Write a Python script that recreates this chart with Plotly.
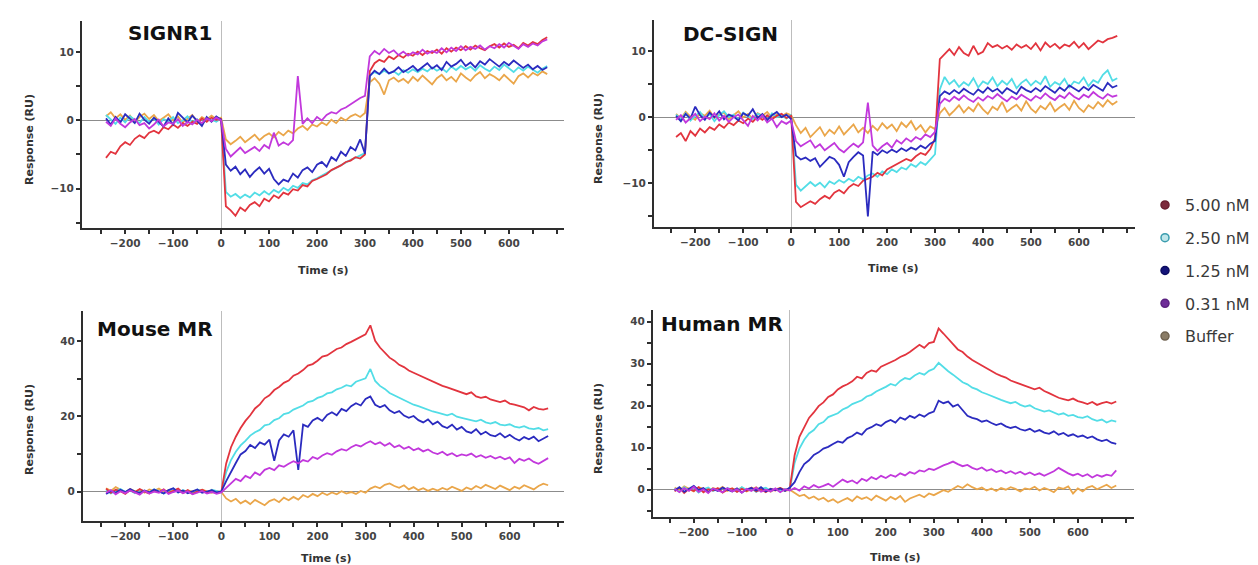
import plotly.graph_objects as go

# ---------------- data ----------------
time_s = list(range(-240, 681, 10))   # sample times (s): -240 ... 680

legend_labels = ["5.00 nM", "2.50 nM", "1.25 nM", "0.31 nM", "Buffer"]
panel_titles = ["SIGNR1", "DC-SIGN", "Mouse MR", "Human MR"]
x_tick_labels = [-200, -100, 0, 100, 200, 300, 400, 500, 600]

# ---- SIGNR1 ----
signr1_500 = ([-5.5, -4.6, -4.9, -3.8, -3.2, -3.6, -2.7, -2.2, -2.6, -1.8, -1.5, -1.9, -1.0, -1.3, -0.6, -1.1, -0.4, -0.8, -0.2, -0.5, 0.3, -0.2, 0.4, 0.1, 0.2]
              + [-12.6, -13.2, -14.0, -12.8, -13.3, -12.4, -12.0, -12.6, -11.5, -11.9, -11.0, -11.4, -10.6, -10.9, -10.1, -10.3, -9.5, -9.7, -8.9, -8.6, -8.2, -7.9, -7.3, -7.0, -6.6, -6.1, -5.9, -5.4, -5.6, -5.0]
              + [7.2, 8.4, 8.9, 8.6, 9.4, 9.0, 9.6, 9.2, 9.8, 9.5, 10.1, 9.6, 10.2, 9.9, 10.4, 9.8, 10.6, 10.1, 10.7, 10.3, 10.9, 10.4, 11.0, 10.6, 10.3, 10.9, 11.2, 10.7, 11.3, 10.8, 11.1, 10.6, 11.4, 11.0, 11.5, 11.2, 11.8, 12.2])
signr1_250 = ([0.8, 0.2, -0.5, 0.4, -0.3, 0.6, 0.1, -0.4, 0.5, -0.2, 0.3, -0.6, 0.2, -0.1, 0.5, -0.4, 0.0, 0.6, -0.3, 0.2, -0.5, 0.3, 0.1, -0.2, 0.3]
              + [-10.5, -11.2, -10.8, -11.4, -10.9, -11.3, -10.6, -11.0, -10.4, -10.9, -10.2, -10.6, -9.9, -10.3, -9.6, -9.9, -9.2, -9.4, -8.8, -8.5, -8.1, -7.7, -7.4, -7.0, -6.5, -6.2, -5.8, -5.5, -5.1, -4.8]
              + [6.6, 7.1, 6.8, 7.3, 6.9, 7.2, 6.7, 7.4, 7.0, 7.5, 7.1, 7.6, 7.2, 7.8, 7.3, 7.7, 7.1, 7.9, 7.4, 8.0, 7.5, 7.9, 7.3, 8.1, 7.6, 7.2, 7.9, 7.4, 8.2, 7.6, 7.1, 7.8, 7.3, 7.9, 7.5, 7.0, 7.6, 8.0])
signr1_125 = ([0.3, -0.6, 0.5, -0.3, 0.9, 0.2, -0.4, 1.0, 0.1, -0.5, 0.4, -0.2, -0.9, 0.3, -0.6, 1.1, 0.4, -0.3, 0.7, 0.0, -0.8, 0.5, -0.2, 0.6, 0.1]
              + [-6.5, -7.4, -6.8, -7.9, -7.2, -8.3, -7.5, -6.9, -7.8, -7.1, -8.6, -9.4, -8.7, -9.0, -7.8, -8.4, -7.3, -6.9, -7.6, -6.5, -6.1, -6.8, -5.4, -5.9, -4.6, -5.2, -3.9, -4.4, -2.8, -4.9]
              + [6.5, 7.3, 6.8, 7.6, 6.9, 7.2, 7.8, 7.1, 7.5, 8.0, 7.3, 7.9, 8.4, 7.6, 8.1, 7.4, 8.6, 7.9, 8.3, 8.9, 8.0, 8.5, 7.8, 8.7, 8.2, 9.0, 8.4, 7.9, 8.6, 8.1, 8.8, 8.3, 7.7, 8.2, 7.5, 8.0, 7.4, 7.8])
signr1_031 = ([-0.2, -0.8, 0.3, -0.5, -1.0, -0.3, 0.2, -0.7, -0.4, -1.2, -0.6, 0.1, -0.9, -0.3, -0.5, 0.2, -0.8, -0.2, -0.6, 0.1, -0.4, 0.3, -0.1, 0.4, 0.0]
              + [-4.2, -5.3, -4.6, -4.0, -4.8, -4.3, -3.9, -4.5, -3.6, -4.1, -1.8, -3.7, -3.2, -3.6, -2.9, 6.5, -0.5, 0.3, -0.4, 0.5, 0.0, 0.8, 1.2, 1.0, 1.6, 1.9, 2.4, 2.9, 3.3, 3.6]
              + [9.4, 10.2, 9.7, 10.5, 9.9, 10.3, 9.6, 10.1, 9.5, 10.0, 9.7, 10.4, 9.8, 10.2, 9.9, 10.6, 10.0, 10.7, 10.2, 10.9, 10.3, 10.8, 10.5, 11.0, 10.4, 10.9, 10.6, 11.2, 10.7, 11.4, 10.9, 10.5, 11.2, 10.8, 11.3, 11.0, 11.6, 11.9])
signr1_buf = ([0.6, 1.2, 0.3, 0.9, 0.1, 0.7, -0.2, 0.5, 1.0, 0.2, 0.8, -0.1, 0.4, 0.9, 0.0, 0.6, -0.3, 0.3, 0.8, -0.2, 0.5, 0.1, 0.7, 0.2, 0.4]
              + [-2.8, -3.5, -3.0, -2.4, -3.2, -2.6, -2.1, -2.9, -2.3, -1.9, -2.5, -1.7, -2.2, -1.5, -1.9, -1.2, -0.8, -1.4, -0.6, -0.9, -0.3, -0.7, 0.1, -0.4, 0.4, 0.0, 0.6, 0.9, 0.5, 1.1]
              + [5.6, 6.2, 5.4, 3.8, 5.9, 6.3, 5.7, 6.1, 5.5, 6.4, 5.8, 6.6, 6.0, 5.3, 6.2, 6.7, 5.9, 6.4, 5.7, 6.9, 6.3, 5.8, 6.6, 7.1, 6.2, 6.8, 6.4, 5.9, 6.7, 6.1, 5.4, 6.5, 6.9, 6.3, 7.0, 6.6, 7.2, 6.8])

# ---- DC-SIGN ----
dcsign_500 = ([-3.0, -2.4, -3.6, -2.1, -2.8, -1.7, -2.3, -1.5, -1.9, -1.1, -1.6, -0.8, -1.2, -0.5, -0.9, -0.2, -0.7, 0.1, -0.4, 0.3, -0.3, 0.2, 0.5, -0.1, 0.2]
              + [-12.8, -13.6, -13.2, -12.7, -13.1, -12.4, -11.9, -12.3, -11.4, -11.0, -11.5, -10.6, -10.1, -10.4, -9.6, -9.3, -9.0, -8.4, -8.8, -7.9, -7.5, -7.1, -6.8, -6.3, -6.6, -5.9, -5.4, -5.7, -4.8, -3.2]
              + [8.8, 9.6, 10.3, 9.4, 10.6, 9.7, 9.3, 10.8, 9.5, 9.9, 11.2, 10.6, 10.9, 10.4, 10.8, 10.2, 11.0, 10.5, 10.9, 10.3, 11.2, 10.1, 11.3, 10.6, 11.1, 10.4, 11.0, 10.7, 11.4, 10.5, 11.2, 10.3, 11.0, 11.6, 11.3, 11.8, 12.0, 12.3])
dcsign_250 = ([0.4, -0.3, 0.6, -0.5, 0.2, 0.8, -0.2, 0.5, -0.6, 0.3, 0.9, 0.0, 0.4, -0.4, 0.7, 0.1, -0.3, 0.5, 0.2, -0.5, 0.6, 0.0, 0.3, -0.2, 0.4]
              + [-10.2, -11.1, -10.5, -9.8, -10.4, -9.9, -10.6, -9.7, -10.1, -9.5, -9.9, -9.3, -9.7, -9.0, -9.4, -8.8, -8.5, -9.0, -8.2, -8.6, -7.9, -8.3, -7.6, -7.9, -7.1, -7.5, -6.8, -7.2, -6.4, -5.6]
              + [4.2, 6.1, 5.0, 5.6, 4.6, 5.3, 4.8, 5.9, 4.5, 5.4, 5.0, 6.0, 4.7, 5.5, 4.9, 5.8, 4.4, 5.2, 5.7, 4.8, 5.5, 5.0, 6.2, 4.6, 5.3, 4.9, 5.8, 4.5, 5.4, 5.1, 6.0, 4.7, 5.6, 5.2, 6.4, 7.1, 5.5, 5.9])
dcsign_125 = ([0.2, -0.6, 0.5, -0.2, 1.6, 0.3, -0.4, 0.7, 0.0, 0.9, -0.3, 0.4, 0.1, -0.5, 0.6, 0.2, 1.2, -0.1, 0.5, -0.4, 0.3, 0.8, 0.0, 0.4, -0.3]
              + [-5.8, -6.4, -6.1, -6.6, -6.2, -7.5, -6.8, -6.0, -6.3, -7.2, -9.0, -6.8, -6.0, -5.3, -5.8, -15.0, -5.2, -5.7, -5.0, -5.4, -4.9, -5.3, -4.7, -5.1, -4.6, -4.9, -4.3, -4.7, -4.0, -3.6]
              + [3.2, 3.9, 3.5, 4.1, 3.6, 4.3, 3.8, 3.4, 4.2, 3.7, 4.5, 3.9, 4.3, 3.6, 4.4, 4.0, 3.5, 4.6, 4.1, 3.8, 4.4, 3.9, 4.7, 4.2, 3.7, 4.5, 4.0, 4.8, 4.3, 3.9, 4.6, 4.1, 4.9, 4.4, 4.0, 5.2, 4.5, 4.8])
dcsign_031 = ([-0.4, 0.3, -0.8, -0.2, 0.5, -0.6, 0.1, -0.3, 0.6, -0.5, 0.2, -0.7, 0.0, 0.4, -0.4, -1.3, 0.2, -0.5, 0.3, -0.8, -0.2, -1.5, -0.6, -1.0, -0.5]
              + [-3.6, -4.4, -4.0, -3.5, -4.6, -4.1, -5.0, -4.4, -3.9, -4.8, -5.3, -4.6, -4.0, -4.5, -3.8, 2.2, -4.3, -5.1, -4.4, -3.9, -4.6, -3.5, -4.0, -3.2, -3.7, -3.0, -3.4, -2.6, -3.0, -2.2]
              + [2.0, 2.8, 2.4, 3.1, 2.6, 3.3, 2.7, 2.3, 3.0, 2.5, 3.2, 2.8, 3.5, 2.9, 2.4, 3.1, 2.7, 3.4, 2.9, 2.5, 3.2, 2.8, 3.6, 3.0, 2.6, 3.3, 2.9, 3.7, 3.1, 2.7, 3.4, 3.0, 3.8, 3.2, 2.8, 3.5, 3.1, 3.3])
dcsign_buf = ([0.5, -0.2, 0.8, 0.1, -0.4, 0.6, 0.2, 1.0, -0.1, 0.4, 0.7, -0.3, 0.3, 0.9, 0.0, 0.5, -0.2, 0.6, 0.2, 0.8, -0.1, 0.4, 0.1, 0.6, 0.3]
              + [-1.2, -2.4, -1.6, -3.0, -2.2, -1.5, -2.8, -1.9, -2.5, -1.4, -2.6, -1.8, -1.1, -2.3, -1.6, -2.4, -1.3, -2.0, -0.9, -1.7, -1.1, -2.1, -0.8, -1.5, -0.6, -1.9, -1.2, -2.3, -1.4, -1.8]
              + [0.6, 1.4, 0.3, 1.0, 1.8, 0.7, 1.5, 0.9, 2.1, 1.2, 0.5, 1.6, 1.1, 2.3, 0.8, 1.4, 1.9, 1.0, 2.4, 1.3, 0.7, 1.7, 1.2, 2.2, 0.9, 1.5, 2.0, 1.1, 2.5, 1.4, 0.8, 1.8, 1.3, 2.3, 1.6, 2.6, 1.9, 2.4])

# ---- Mouse MR ----
mouse_500 = ([0.8, -0.3, 0.5, 0.1, -0.6, 0.4, -0.2, 0.7, 0.0, -0.5, 0.3, -0.1, 0.6, -0.4, 0.2, 0.8, -0.3, 0.4, -0.6, 0.1, 0.5, -0.2, 0.3, -0.4, 0.0]
             + [7.5, 11.8, 14.6, 16.9, 18.8, 20.3, 22.1, 23.2, 24.8, 25.6, 27.0, 27.8, 28.9, 29.5, 30.8, 31.4, 32.3, 33.5, 33.9, 34.8, 35.9, 36.2, 37.1, 37.9, 38.3, 39.2, 39.8, 40.4, 41.2, 41.8]
             + [44.2, 40.1, 38.3, 36.9, 35.6, 34.8, 33.7, 33.1, 32.2, 31.6, 31.0, 30.4, 29.9, 29.3, 28.8, 28.1, 27.7, 27.2, 26.8, 26.3, 25.9, 26.4, 25.3, 24.9, 25.2, 24.5, 24.1, 23.8, 24.2, 23.4, 23.1, 22.7, 22.4, 21.6, 22.5, 22.0, 21.8, 22.1])
mouse_250 = ([0.4, -0.5, 0.2, 0.7, -0.1, 0.3, -0.4, 0.5, 0.1, -0.3, 0.6, 0.0, -0.5, 0.3, 0.8, -0.2, 0.4, 0.0, -0.4, 0.6, 0.2, -0.3, 0.5, 0.1, -0.2]
             + [5.2, 8.4, 10.6, 12.3, 13.5, 14.9, 15.8, 16.4, 17.6, 17.9, 19.0, 19.5, 20.6, 20.9, 21.8, 22.4, 22.9, 23.8, 24.1, 24.9, 25.3, 26.1, 26.4, 27.2, 27.6, 28.3, 28.0, 29.2, 29.6, 30.1]
             + [32.6, 29.4, 28.1, 27.3, 26.2, 25.6, 25.0, 24.2, 23.8, 23.1, 22.7, 22.2, 21.9, 21.3, 21.0, 20.6, 20.3, 20.7, 19.9, 19.6, 19.3, 19.0, 18.7, 19.1, 18.4, 18.1, 18.5, 17.8, 17.6, 17.9, 17.3, 17.0, 17.4, 16.8, 16.6, 16.9, 16.3, 16.6])
mouse_125 = ([-0.6, 0.2, -0.3, 0.5, -0.1, 0.7, 0.0, -0.4, 0.3, -0.2, 0.6, 0.1, -0.5, 0.4, 0.9, -0.2, 0.3, -0.4, 0.2, 0.6, -0.3, 0.1, 0.4, -0.2, 0.1]
             + [2.8, 5.4, 7.6, 9.9, 10.8, 12.4, 11.6, 13.1, 12.5, 13.8, 8.2, 13.6, 15.2, 14.6, 16.3, 5.8, 17.8, 17.2, 18.9, 19.6, 18.8, 20.4, 21.1, 20.3, 22.0, 21.4, 22.7, 23.5, 22.9, 24.6]
             + [25.3, 23.1, 22.4, 23.0, 21.6, 20.9, 21.4, 20.2, 19.6, 20.1, 19.0, 18.4, 19.2, 17.9, 18.6, 17.4, 16.9, 17.8, 16.5, 17.2, 16.0, 15.6, 16.6, 15.2, 15.9, 15.0, 14.7, 15.5, 14.4, 15.1, 14.2, 13.6, 14.5, 13.9, 14.6, 13.4, 14.0, 14.8])
mouse_031 = ([-0.3, 0.4, -0.7, 0.1, -0.4, 0.3, -0.2, -0.8, 0.2, -0.5, 0.0, -0.3, 0.5, -0.6, -0.1, 0.3, -0.4, 0.1, -0.7, -0.2, 0.2, -0.5, -0.1, -0.6, -0.2]
             + [1.0, 2.1, 3.4, 2.8, 4.2, 3.6, 5.1, 4.4, 5.8, 6.3, 5.7, 7.0, 6.6, 7.4, 8.1, 7.5, 8.4, 8.0, 9.2, 8.7, 9.6, 10.2, 9.8, 10.7, 11.3, 10.9, 11.8, 12.4, 12.0, 12.8]
             + [13.4, 12.6, 13.1, 12.2, 12.9, 11.8, 12.3, 11.4, 11.9, 11.0, 11.5, 10.7, 11.2, 10.4, 10.0, 10.6, 9.7, 10.2, 9.4, 9.9, 9.6, 10.1, 9.2, 9.7, 9.0, 9.5, 8.8, 9.3, 8.6, 9.1, 7.6, 8.7, 8.2, 8.8, 7.9, 7.4, 8.1, 8.9])
mouse_buf = ([0.9, 0.2, 1.2, 0.4, -0.2, 0.7, 0.1, 0.5, -0.3, 0.6, 0.2, 0.8, -0.1, 0.4, 0.0, 0.6, -0.4, 0.3, 0.1, -0.2, 0.5, 0.0, -0.3, 0.2, -0.1]
             + [-1.8, -2.6, -1.9, -3.1, -2.4, -3.3, -2.2, -2.9, -3.6, -2.5, -2.0, -2.8, -1.6, -2.3, -1.4, -2.1, -0.9, -1.5, -0.6, -1.2, -0.3, -0.9, -0.2, -0.7, 0.1, -0.5, -0.1, -0.6, 0.2, -0.3]
             + [0.8, 1.4, 0.9, 1.8, 2.2, 1.5, 1.0, 1.7, 0.6, 1.2, 0.4, 0.9, 0.2, 0.8, 0.3, 1.0, 0.5, 1.3, 0.7, 0.2, 1.1, 0.6, 1.5, 0.9, 1.8, 1.2, 0.7, 1.6, 1.1, 0.4, 1.3, 0.8, 1.7, 1.2, 0.6, 1.5, 2.1, 1.7])

# ---- Human MR ----
human_500 = ([-0.4, 0.5, -0.8, 0.2, -0.3, 0.6, -0.6, 0.1, -0.2, 0.4, -0.7, 0.0, 0.3, -0.5, 0.2, -0.3, 0.5, -0.4, 0.1, -0.6, 0.2, -0.2, 0.4, -0.1, 0.3]
             + [8.2, 12.6, 15.0, 17.1, 18.4, 19.9, 20.8, 22.1, 22.7, 23.9, 24.6, 25.1, 25.8, 26.9, 26.5, 27.8, 28.4, 28.1, 29.3, 29.8, 30.4, 30.9, 31.6, 32.1, 32.8, 33.6, 34.5, 33.8, 34.9, 35.2]
             + [38.4, 37.2, 35.9, 34.6, 33.4, 32.8, 31.7, 30.9, 30.2, 29.6, 28.9, 28.3, 27.6, 27.1, 26.7, 26.0, 25.6, 25.2, 24.8, 24.4, 23.9, 24.3, 23.5, 23.0, 22.5, 21.9, 21.6, 21.3, 21.7, 21.1, 20.8, 20.4, 20.9, 20.2, 20.6, 20.9, 20.5, 21.0])
human_250 = ([0.3, -0.5, 0.6, -0.2, 0.4, -0.7, 0.1, 0.5, -0.3, 0.2, -0.6, 0.4, 0.0, -0.4, 0.6, -0.1, 0.3, -0.5, 0.2, 0.5, -0.3, 0.1, -0.4, 0.2, 0.0]
             + [6.4, 9.8, 11.9, 13.4, 14.2, 15.6, 16.1, 17.3, 17.8, 18.2, 19.1, 19.6, 20.4, 20.9, 21.3, 22.2, 22.6, 23.4, 23.9, 24.5, 25.2, 24.8, 25.9, 26.6, 26.3, 27.2, 27.8, 27.4, 28.3, 28.8]
             + [30.2, 29.1, 28.2, 27.4, 26.5, 25.6, 25.1, 24.3, 23.9, 23.2, 22.8, 22.3, 21.9, 21.4, 21.0, 20.6, 20.9, 20.2, 19.8, 20.1, 19.4, 19.0, 18.6, 18.9, 18.3, 17.9, 18.2, 17.6, 17.8, 17.3, 17.1, 17.5, 16.8, 16.4, 16.7, 16.0, 16.5, 16.2])
human_125 = ([-0.2, 0.6, -0.5, 0.3, 0.9, -0.1, 0.4, -0.6, 0.2, -0.3, 0.5, 0.0, -0.4, 0.3, -0.7, 0.1, 0.4, -0.2, 0.6, -0.4, 0.2, -0.1, 0.3, -0.3, 0.5]
             + [1.8, 4.2, 6.1, 7.0, 8.3, 8.9, 9.8, 10.2, 10.9, 11.5, 11.2, 12.3, 12.8, 13.6, 13.1, 14.4, 14.9, 15.6, 15.2, 16.1, 16.6, 16.0, 17.2, 16.7, 17.6, 17.1, 17.9, 17.4, 18.2, 18.6]
             + [21.2, 20.6, 21.0, 19.8, 20.3, 18.9, 17.6, 17.1, 16.8, 16.2, 16.5, 15.9, 15.4, 15.8, 15.1, 14.7, 15.0, 14.4, 14.1, 14.5, 13.8, 14.2, 13.6, 13.3, 13.9, 13.1, 13.5, 12.8, 13.2, 12.6, 12.9, 12.3, 12.7, 12.0, 11.6, 11.9, 11.2, 10.9])
human_031 = ([0.2, -0.6, 0.4, -0.3, 0.7, -0.5, 0.1, -0.8, 0.3, -0.2, -0.6, 0.4, -0.4, 0.1, -0.7, 0.2, -0.3, 0.5, -0.5, 0.0, -0.4, 0.3, -0.6, 0.1, -0.2]
             + [0.4, -0.2, 0.8, 0.3, 1.1, 0.5, 0.9, 1.4, 0.7, 1.6, 2.4, 1.8, 2.2, 1.5, 2.6, 2.1, 3.0, 2.5, 3.3, 2.8, 3.5, 3.1, 3.9, 3.4, 4.2, 3.8, 4.6, 4.3, 5.0, 4.7]
             + [5.3, 5.8, 6.2, 6.7, 6.1, 5.6, 5.9, 5.2, 4.8, 5.3, 4.5, 4.9, 4.2, 4.6, 3.9, 4.4, 3.8, 4.3, 3.6, 4.1, 3.5, 3.9, 3.3, 3.8, 4.4, 5.2, 4.5, 3.9, 3.4, 3.8, 3.2, 3.7, 2.9, 3.5, 3.1, 3.6, 3.3, 4.6])
human_buf = ([0.5, -0.2, 0.8, 0.1, -0.4, 0.6, 0.2, -0.5, 0.4, 0.0, 0.7, -0.3, 0.3, -0.1, 0.5, -0.4, 0.2, 0.6, -0.2, 0.3, -0.5, 0.1, 0.4, -0.3, 0.0]
             + [-0.8, -1.5, -1.2, -2.1, -1.6, -2.4, -1.9, -2.8, -2.3, -3.1, -2.5, -2.0, -2.7, -1.6, -2.2, -1.8, -2.5, -1.4, -2.0, -2.6, -1.7, -2.3, -1.5, -2.9, -2.1, -1.6, -1.2, -1.8, -0.9, -1.3]
             + [-0.6, -0.1, -0.5, 0.3, 0.9, 0.4, 1.3, 0.6, 0.1, 0.5, -0.2, 0.3, -0.3, 0.4, 0.0, 0.6, 0.2, -0.4, 0.3, 0.1, 0.7, -0.2, 0.4, 0.0, -0.6, 0.5, 0.2, 0.8, -0.9, 0.3, -0.4, 0.5, 0.9, 0.1, 0.6, 1.2, 0.4, 1.0])

panel_series = [
    [signr1_500, signr1_250, signr1_125, signr1_031, signr1_buf],
    [dcsign_500, dcsign_250, dcsign_125, dcsign_031, dcsign_buf],
    [mouse_500, mouse_250, mouse_125, mouse_031, mouse_buf],
    [human_500, human_250, human_125, human_031, human_buf],
]
for p in panel_series:
    for s in p:
        assert len(s) == len(time_s), (len(s), len(time_s))

# ---------------- styling ----------------
W, H = 1258, 565
line_colors = ["#e2343e", "#52dde6", "#2b2bbf", "#c238dc", "#eaa64a"]
legend_fill = ["#7c2a3c", "#bfe6ea", "#14147a", "#6e2c98", "#8a7c66"]
legend_edge = ["#6a2030", "#3a9cae", "#0c0c60", "#5a2080", "#6f6250"]
draw_order = [4, 1, 0, 2, 3]
FONT = "DejaVu Sans"
AX = "#2e2e2e"

# plot boxes in pixels: (left, right, top, bottom), axis ranges, y tick steps
boxes = [(74, 556, 13, 220), (646, 1127, 12, 219), (75, 556, 303, 513), (645, 1126, 302, 509)]
x_ranges = [[-290, 715], [-286, 717], [-288, 713], [-285, 717]]
y_ranges = [[-15.8, 14.6], [-16.6, 14.7], [-7.8, 48], [-6.5, 42.8]]
y_dticks = [10, 10, 20, 10]
x_minor_vals = [-250, -150, -50, 50, 150, 250, 350, 450, 550, 650, 700]
title_pos = [(162, 25), (722, 26), (147, 321), (714, 316)]
ylab_pos = [(21, 132), (590, 131), (21, 422), (590, 421)]
xlab_pos = [(316, 262), (885, 260), (318, 550), (887, 549)]

fig = go.Figure()
layout = dict()
annotations = []
for k in range(4):
    l, r, t, b = boxes[k]
    xa = "x" if k == 0 else f"x{k+1}"
    ya = "y" if k == 0 else f"y{k+1}"
    xkey = "xaxis" if k == 0 else f"xaxis{k+1}"
    ykey = "yaxis" if k == 0 else f"yaxis{k+1}"
    for i in draw_order:
        fig.add_trace(go.Scatter(
            x=time_s, y=panel_series[k][i], xaxis=xa, yaxis=ya, mode="lines",
            line=dict(color=line_colors[i], width=1.8), showlegend=False,
            hoverinfo="skip"))
    axis_common = dict(
        showline=True, linecolor=AX, linewidth=2, showgrid=False,
        ticks="outside", ticklen=4, tickwidth=1.5, tickcolor=AX,
        tickfont=dict(family=FONT, size=10.5, color="#444", weight="bold"),
        zeroline=True, zerolinewidth=1, automargin=False, fixedrange=True)
    layout[xkey] = dict(axis_common, domain=[l / W, r / W], range=x_ranges[k],
                        anchor=ya, tickmode="array", tickvals=x_tick_labels,
                        zerolinecolor="#bdbdbd",
                        minor=dict(tickmode="array", tickvals=x_minor_vals, ticks="outside",
                                   ticklen=4, tickwidth=1.5, tickcolor=AX))
    layout[ykey] = dict(axis_common, domain=[1 - b / H, 1 - t / H], range=y_ranges[k],
                        anchor=xa, tick0=0, dtick=y_dticks[k], zerolinecolor="#8c8c8c",
                        minor=dict(dtick=y_dticks[k] / 2, ticks="outside", ticklen=4,
                                   tickwidth=1.5, tickcolor=AX))
    tx, ty = title_pos[k]
    annotations.append(dict(text=panel_titles[k], x=tx / W, y=1 - ty / H, xref="paper", yref="paper",
                            showarrow=False, xanchor="center", yanchor="middle",
                            font=dict(family=FONT, size=20, color="#111", weight="bold")))
    yx, yy = ylab_pos[k]
    annotations.append(dict(text="Response (RU)", x=yx / W, y=1 - yy / H, xref="paper", yref="paper",
                            showarrow=False, textangle=-90, xanchor="center", yanchor="middle",
                            font=dict(family=FONT, size=11, color="#333", weight="bold")))
    xx, xy = xlab_pos[k]
    annotations.append(dict(text="Time (s)", x=xx / W, y=1 - xy / H, xref="paper", yref="paper",
                            showarrow=False, xanchor="center", yanchor="middle",
                            font=dict(family=FONT, size=11, color="#333", weight="bold")))

for i in range(5):
    fig.add_trace(go.Scatter(
        x=[None], y=[None], mode="markers", name=legend_labels[i], legendgroup=str(i),
        marker=dict(size=8, color=legend_fill[i], line=dict(color=legend_edge[i], width=1.5))))

fig.update_layout(
    width=W, height=H, margin=dict(l=0, r=0, t=0, b=0),
    paper_bgcolor="white", plot_bgcolor="white",
    annotations=annotations,
    legend=dict(x=1137 / W, y=1 - 180 / H, xanchor="left", yanchor="top",
                font=dict(family=FONT, size=16, color="#3a3a3a"),
                tracegroupgap=9, itemwidth=30, bgcolor="rgba(0,0,0,0)"),
    **layout)

fig.write_html("out.html")
